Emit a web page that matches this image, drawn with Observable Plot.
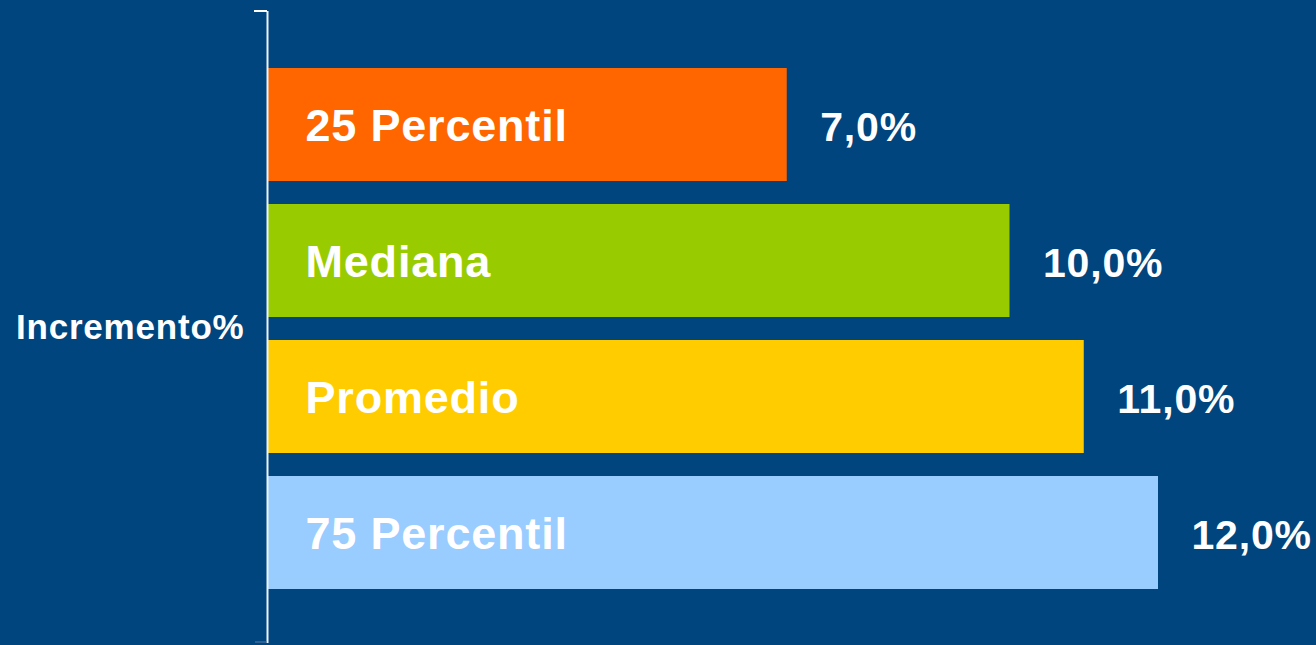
<!DOCTYPE html>
<html>
<head>
<meta charset="utf-8">
<script src="https://cdn.jsdelivr.net/npm/d3@7"></script>
<script src="https://cdn.jsdelivr.net/npm/@observablehq/plot@0.6"></script>
<style>
  html, body { margin: 0; padding: 0; background: #00457E; overflow: hidden; }
  #chart svg { display: block; }
  #chart text { letter-spacing: 0.8px; }
</style>
</head>
<body>
<div id="chart"></div>
<script>
// Data
const category = "Incremento%";
const series = ["25 Percentil", "Mediana", "Promedio", "75 Percentil"];
const values = [7.0, 10.0, 11.0, 12.0];
const colors = ["#FF6600", "#99CC00", "#FFCC00", "#99CCFF"];

const rows = series.map((s, i) => ({series: s, value: values[i]}));
const fmt = v => v.toFixed(1).replace(".", ",") + "%";
const bg = "#00457E";

// Category-axis decoration: end ticks of the bracketed axis, using frame dimensions
function axisEndTicks(...args) {
  const dims = args.find(a => a && typeof a === "object" && "marginTop" in a && "height" in a);
  const g = d3.create("svg:g");
  if (!dims) return g.node();
  const x0 = dims.marginLeft;
  const yTop = dims.marginTop;
  const yBot = dims.height - dims.marginBottom;
  g.append("line").attr("x1", x0 - 13).attr("x2", x0).attr("y1", yTop).attr("y2", yTop)
    .attr("stroke", "#ffffff").attr("stroke-width", 2);
  g.append("line").attr("x1", x0 - 12).attr("x2", x0).attr("y1", yBot - 1).attr("y2", yBot - 1)
    .attr("stroke", "#5a7fa6").attr("stroke-width", 1);
  return g.node();
}

const chart = Plot.plot({
  width: 1316,
  height: 645,
  marginLeft: 267,
  marginRight: 0,
  marginTop: 11,
  marginBottom: 2,
  style: {background: bg, fontFamily: "'Liberation Sans', Arial, sans-serif"},
  x: {domain: [0, 12], range: [267, 1158], axis: null},
  y: {domain: series, range: [68, 589], paddingInner: 0.17, paddingOuter: 0, axis: null},
  color: {domain: series, range: colors},
  marks: [
    Plot.barX(rows, {y: "series", x: "value", fill: "series"}),
    Plot.ruleX([0], {stroke: "#eef3f8", strokeWidth: 2}),
    axisEndTicks,
    Plot.text([category], {
      frameAnchor: "left", textAnchor: "end", dx: -23,
      fill: "white", fontSize: 35, fontWeight: "bold"
    }),
    Plot.text(rows, {
      y: "series", x: 0, text: "series", textAnchor: "start", dx: 38, dy: 2,
      fill: "white", fontSize: 45, fontWeight: "bold"
    }),
    Plot.text(rows, {
      y: "series", x: "value", text: d => fmt(d.value), textAnchor: "start", dx: 33, dy: 3,
      fill: "white", fontSize: 41, fontWeight: "bold"
    })
  ]
});
document.getElementById("chart").appendChild(chart);
</script>
</body>
</html>
